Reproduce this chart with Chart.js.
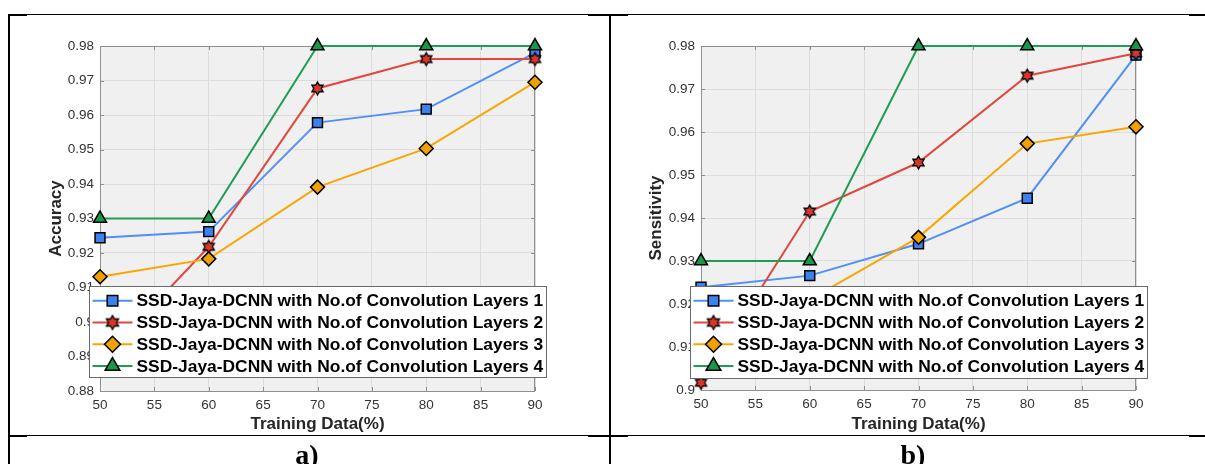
<!DOCTYPE html>
<html>
<head>
<meta charset="utf-8">
<script src="https://cdn.jsdelivr.net/npm/chart.js@4.4.1/dist/chart.umd.min.js"></script>
<style>
    html, body { margin: 0; padding: 0; background: #fff; }
    body { width: 1205px; height: 464px; position: relative; overflow: hidden; }
    canvas { position: absolute; top: 0; }
    #accuracyChart { left: 0; }
    #sensitivityChart { left: 605px; }
    .rule { position: absolute; background: #000; z-index: 2; }
    .caption { position: absolute; top: 441px; font: bold 28px/28px 'Liberation Serif', 'Times New Roman', serif; z-index: 2; transform: translateX(-50%); }
</style>
</head>
<body>
<canvas id="accuracyChart" width="605" height="464"></canvas>
<canvas id="sensitivityChart" width="600" height="464"></canvas>

<!-- рамка таблицы -->
<div class="rule" style="left:8px;top:14px;width:1197px;height:1px"></div>
<div class="rule" style="left:8px;top:14px;width:19px;height:2px"></div>
<div class="rule" style="left:588px;top:14px;width:40px;height:2px"></div>
<div class="rule" style="left:1189px;top:14px;width:16px;height:2px"></div>
<div class="rule" style="left:8px;top:435px;width:1197px;height:1px"></div>
<div class="rule" style="left:8px;top:435px;width:19px;height:2px"></div>
<div class="rule" style="left:588px;top:435px;width:40px;height:2px"></div>
<div class="rule" style="left:1189px;top:435px;width:16px;height:2px"></div>
<div class="rule" style="left:8px;top:14px;width:2px;height:450px"></div>
<div class="rule" style="left:609px;top:14px;width:2px;height:450px"></div>
<div class="caption" style="left:307px">a)</div>
<div class="caption" style="left:913px">b)</div>

<script>
// Доля обучающих данных (ось X)
const trainingData = [50, 60, 70, 80, 90];
// Подписи серий
const seriesLabels = [
    'SSD-Jaya-DCNN with No.of Convolution Layers 1',
    'SSD-Jaya-DCNN with No.of Convolution Layers 2',
    'SSD-Jaya-DCNN with No.of Convolution Layers 3',
    'SSD-Jaya-DCNN with No.of Convolution Layers 4'
];
// a) Accuracy
const accLayers1 = [0.9244, 0.9262, 0.9578, 0.9617, 0.9780];
const accLayers2 = [0.8885, 0.9218, 0.9677, 0.9762, 0.9762];
const accLayers3 = [0.9131, 0.9183, 0.9391, 0.9503, 0.9695];
const accLayers4 = [0.9300, 0.9300, 0.9800, 0.9800, 0.9800];
// b) Sensitivity
const senLayers1 = [0.9239, 0.9266, 0.9340, 0.9446, 0.9779];
const senLayers2 = [0.9017, 0.9415, 0.9529, 0.9731, 0.9783];
const senLayers3 = [0.9120, 0.9210, 0.9355, 0.9573, 0.9612];
const senLayers4 = [0.9300, 0.9300, 0.9800, 0.9800, 0.9800];
// Деления осей
const xTicks = { min: 50, max: 90, step: 5 };
const accTicks = { min: 0.88, max: 0.98, step: 0.01 };
const senTicks = { min: 0.90, max: 0.98, step: 0.01 };

const FONT = "'Liberation Sans', Arial, sans-serif";

//Шестиконечная звезда для второй серии
function makeHexagram(r, fill) {
    const c = document.createElement('canvas');
    const s = Math.ceil(r * 2 + 4);
    c.width = s;
    c.height = s;
    const g = c.getContext('2d');
    g.beginPath();
    for (let i = 0; i < 12; i++) {
        const ang = -Math.PI / 2 + i * Math.PI / 6;
        const rad = i % 2 === 0 ? r : r / Math.sqrt(3);
        const px = s / 2 + Math.cos(ang) * rad;
        const py = s / 2 + Math.sin(ang) * rad;
        if (i === 0) g.moveTo(px, py); else g.lineTo(px, py);
    }
    g.closePath();
    g.fillStyle = fill;
    g.fill();
    g.lineWidth = 1.3;
    g.strokeStyle = '#000';
    g.stroke();
    return c;
}

//Стили серий
const styles = [
    { line: '#4f8ff7', fill: '#3b82f0', pointStyle: 'rect', radius: 7 },
    { line: '#e0473d', fill: '#d8362a', pointStyle: makeHexagram(6.5, '#d8362a'), radius: 6 },
    { line: '#f9a602', fill: '#f0a000', pointStyle: 'rectRot', radius: 7 },
    { line: '#1e9e55', fill: '#16994a', pointStyle: 'triangle', radius: 7.5 }
];
const legendStyles = [
    { pointStyle: 'rect', radius: 7.5 },
    { pointStyle: makeHexagram(7, '#d8362a'), radius: 7 },
    { pointStyle: 'rectRot', radius: 8 },
    { pointStyle: 'triangle', radius: 8.5 }
];

//Фон, рамка и внутренние деления осей (как в MATLAB)
const axesBox = {
    id: 'axesBox',
    beforeDraw(chart) {
        const { ctx, chartArea: a } = chart;
        ctx.save();
        ctx.fillStyle = '#f0f0f0';
        ctx.fillRect(a.left, a.top, a.width, a.height);
        ctx.restore();
    },
    beforeDatasetsDraw(chart) {
        const { ctx, chartArea: a } = chart;
        const xs = chart.scales.x;
        const ys = chart.scales.y;
        ctx.save();
        ctx.strokeStyle = '#8f8f8f';
        ctx.lineWidth = 1;
        ctx.beginPath();
        xs.ticks.forEach(t => {
            const px = Math.round(xs.getPixelForValue(t.value)) + 0.5;
            ctx.moveTo(px, a.bottom); ctx.lineTo(px, a.bottom - 4);
            ctx.moveTo(px, a.top); ctx.lineTo(px, a.top + 4);
        });
        ys.ticks.forEach(t => {
            const py = Math.round(ys.getPixelForValue(t.value)) + 0.5;
            ctx.moveTo(a.left, py); ctx.lineTo(a.left + 4, py);
            ctx.moveTo(a.right, py); ctx.lineTo(a.right - 4, py);
        });
        ctx.stroke();
        ctx.strokeRect(Math.round(a.left) + 0.5, Math.round(a.top) + 0.5,
            Math.round(a.width) - 1, Math.round(a.height));
        ctx.restore();
    }
};

//Легенда в рамке поверх графика
const boxLegend = {
    id: 'boxLegend',
    afterDraw(chart, args, opts) {
        const ctx = chart.ctx;
        ctx.save();
        ctx.fillStyle = '#fff';
        ctx.fillRect(opts.left, opts.top, opts.width, opts.height);
        ctx.strokeStyle = '#6a6a6a';
        ctx.lineWidth = 1;
        ctx.strokeRect(opts.left + 0.5, opts.top + 0.5, opts.width, opts.height);
        ctx.font = 'bold 17.4px ' + FONT;
        ctx.textBaseline = 'middle';
        seriesLabels.forEach((label, i) => {
            const y = opts.firstRow + i * opts.rowStep;
            const x0 = opts.left + 3.5;
            ctx.strokeStyle = styles[i].line;
            ctx.lineWidth = 2;
            ctx.beginPath();
            ctx.moveTo(x0, y);
            ctx.lineTo(x0 + 40, y);
            ctx.stroke();
            ctx.fillStyle = styles[i].fill;
            ctx.strokeStyle = '#000';
            ctx.lineWidth = 1.5;
            Chart.helpers.drawPoint(ctx, {
                pointStyle: legendStyles[i].pointStyle,
                radius: legendStyles[i].radius,
                borderWidth: 1.5,
                rotation: 0
            }, x0 + 20, y);
            ctx.fillStyle = '#000';
            ctx.fillText(label, x0 + 44, y + 1);
        });
        ctx.restore();
    }
};

function buildDatasets(series) {
    return series.map((values, i) => ({
        label: seriesLabels[i],
        data: trainingData.map((x, k) => ({ x: x, y: values[k] })),
        borderColor: styles[i].line,
        backgroundColor: styles[i].fill,
        borderWidth: 2,
        pointStyle: styles[i].pointStyle,
        pointRadius: styles[i].radius,
        pointHoverRadius: styles[i].radius,
        pointBackgroundColor: styles[i].fill,
        pointBorderColor: '#000',
        pointBorderWidth: 1.5,
        order: 4 - i,
        clip: false
    }));
}

function createChart(canvasId, series, yTicks, yTitle, layout) {
    return new Chart(document.getElementById(canvasId), {
        type: 'line',
        data: { datasets: buildDatasets(series) },
        options: {
            responsive: false,
            animation: false,
            events: [],
            layout: { padding: { left: 0, top: 46, right: layout.right, bottom: 0 } },
            plugins: {
                legend: { display: false },
                tooltip: { enabled: false },
                boxLegend: layout.legend
            },
            scales: {
                x: {
                    type: 'linear',
                    min: xTicks.min,
                    max: xTicks.max,
                    ticks: {
                        stepSize: xTicks.step,
                        padding: 6,
                        color: '#333',
                        font: { family: FONT, size: 13.5 }
                    },
                    grid: { color: '#dcdcdc', drawTicks: false },
                    border: { display: false },
                    title: {
                        display: true,
                        text: 'Training Data(%)',
                        color: '#262626',
                        font: { family: FONT, size: 17, weight: 'bold' },
                        padding: { top: 0, bottom: layout.xTitlePad }
                    },
                    afterFit: scale => { scale.height = layout.xHeight; }
                },
                y: {
                    min: yTicks.min,
                    max: yTicks.max,
                    ticks: {
                        stepSize: yTicks.step,
                        padding: 6,
                        color: '#333',
                        font: { family: FONT, size: 13.5 },
                        callback: v => Number(v.toFixed(2)).toString()
                    },
                    grid: { color: '#dcdcdc', drawTicks: false },
                    border: { display: false },
                    title: {
                        display: true,
                        text: yTitle,
                        color: '#262626',
                        font: { family: FONT, size: 17, weight: 'bold' },
                        padding: { top: layout.yTitlePad, bottom: 0 }
                    },
                    afterFit: scale => { scale.width = layout.yWidth; }
                }
            }
        },
        plugins: [axesBox, boxLegend]
    });
}

createChart('accuracyChart', [accLayers1, accLayers2, accLayers3, accLayers4], accTicks, 'Accuracy', {
    right: 70, yWidth: 100, xHeight: 73, yTitlePad: 46.5, xTitlePad: 29,
    legend: { left: 89, top: 286, width: 457, height: 91, firstRow: 300.7, rowStep: 21.8 }
});

createChart('sensitivityChart', [senLayers1, senLayers2, senLayers3, senLayers4], senTicks, 'Sensitivity', {
    right: 69, yWidth: 96, xHeight: 74, yTitlePad: 40.8, xTitlePad: 29,
    legend: { left: 85, top: 286, width: 457, height: 92, firstRow: 300.7, rowStep: 21.8 }
});
</script>
</body>
</html>
